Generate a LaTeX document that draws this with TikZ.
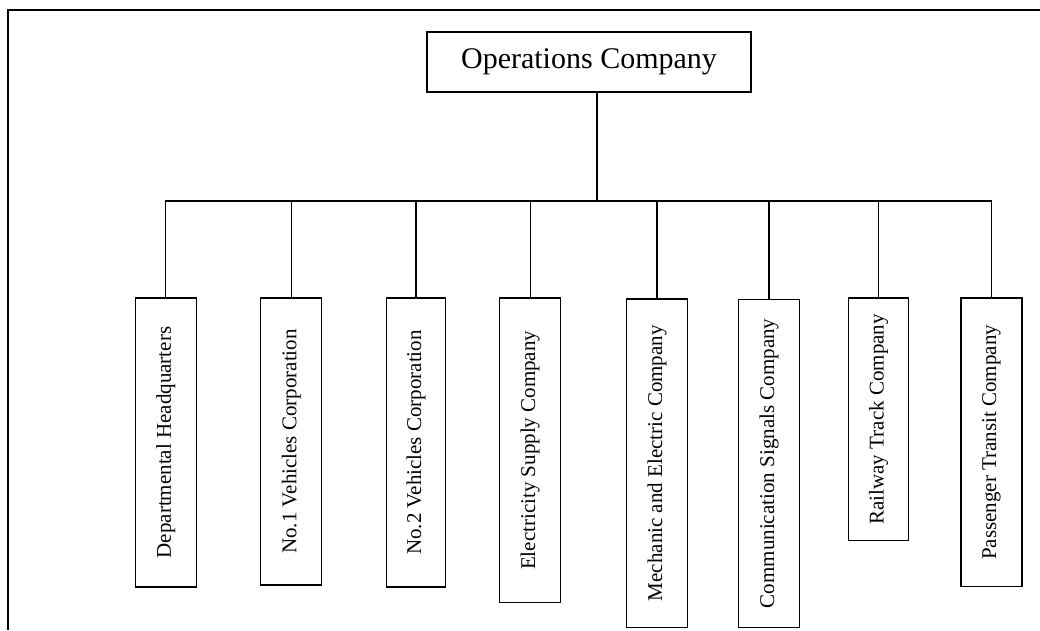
\documentclass[tikz,border=0pt]{standalone}
\usepackage{fontspec}
\setmainfont{Liberation Serif}
\usetikzlibrary{positioning}

\begin{document}
\begin{tikzpicture}[
                x=1pt, y=-1pt,
                every node/.style={draw, line width=1.3pt, inner sep=0pt},
                dept/.style={rotate=90, anchor=east, minimum height=61pt,
                    minimum width=#1, font=\fontsize{21}{25}\selectfont},
                link/.style={line width=1.3pt, line cap=rect}
            ]
                \useasboundingbox (0,0) rectangle (1040,630);
                \draw[line width=2pt] (8,630) -- (8,10) -- (1040,10);
                \node (ops) [minimum width=324pt, minimum height=60pt,
                    font=\fontsize{30}{36}\selectfont] at (589,62) {Operations Company};
                \coordinate (bus) at (597,201);
                \node (dh)  [dept=289pt] at (165.7,297.3) {Departmental Headquarters};
                \node (nv1) [dept=287pt] at (291.3,297.3) {No.1 Vehicles Corporation};
                \node (nv2) [dept=289pt, minimum height=59pt] at (416,297.3) {No.2 Vehicles Corporation};
                \node (esc) [dept=304.7pt] at (530.2,297.3) {Electricity Supply Company};
                \node (mec) [dept=328.4pt] at (657,298.3) {Mechanic and Electric Company};
                \node (csc) [dept=328pt] at (769,298.7) {Communication Signals Company};
                \node (rtc) [dept=242.7pt, minimum height=60pt] at (878.5,297.3) {Railway Track Company};
                \node (ptc) [dept=288.7pt] at (991.5,297.3) {Passenger Transit Company};
                \draw[link] ([xshift=8pt]ops.south) -- (bus);
                \draw[link] (dh.east |- bus) -- (ptc.east |- bus);
                \foreach \d in {dh,nv1,nv2,esc,mec,csc,rtc,ptc}
                    \draw[link] (\d.east) -- (\d.east |- bus);
            \end{tikzpicture}
\end{document}
